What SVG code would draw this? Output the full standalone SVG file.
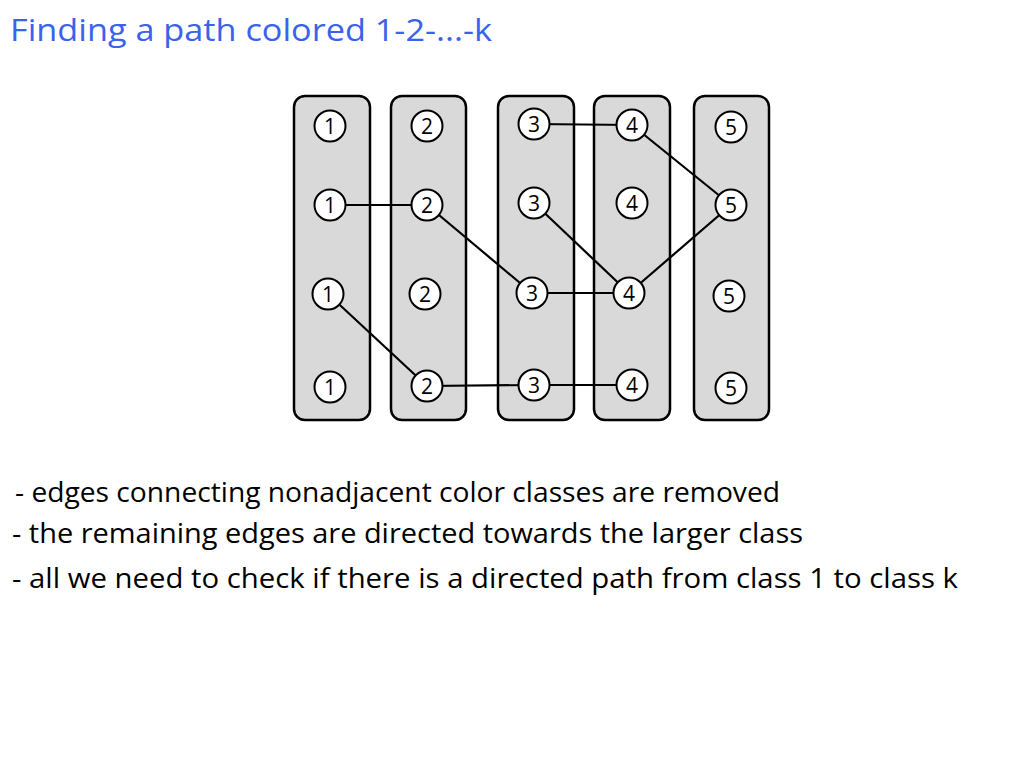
<svg xmlns="http://www.w3.org/2000/svg" width="1024" height="768" viewBox="0 0 1024 768">
<style>
.box{fill:#d9d9d9;stroke:#000;stroke-width:2.5}
.n circle{fill:#fff;stroke:#000;stroke-width:2}
.n text{font-family:"Open Sans","Noto Sans",sans-serif;font-size:21px;text-anchor:middle;dominant-baseline:central;fill:#000}
.e line{stroke:#000;stroke-width:2.2}
.title{font-family:"Open Sans","DejaVu Sans",sans-serif;font-size:31px;fill:#3a62ec}
.body{font-family:"Open Sans","DejaVu Sans",sans-serif;font-size:28px;fill:#000}
</style>
<rect width="1024" height="768" fill="#fff"/>
<text class="title" x="10" y="41" textLength="482" lengthAdjust="spacingAndGlyphs">Finding a path colored 1-2-...-k</text>
<g id="classes">
<rect id="class1" class="box" x="294" y="96" width="76" height="324" rx="11"/>
<rect id="class2" class="box" x="391" y="96" width="75" height="324" rx="11"/>
<rect id="class3" class="box" x="498" y="96" width="76" height="324" rx="11"/>
<rect id="class4" class="box" x="594" y="96" width="76" height="324" rx="11"/>
<rect id="class5" class="box" x="694" y="96" width="75" height="324" rx="11"/>
</g>
<g id="connectors" class="e">
<line x1="534" y1="124" x2="632" y2="125"/>
<line x1="632" y1="125" x2="731" y2="205"/>
<line x1="330" y1="205" x2="427" y2="205"/>
<line x1="427" y1="205" x2="532" y2="293"/>
<line x1="534" y1="203" x2="629" y2="293"/>
<line x1="532" y1="293" x2="629" y2="293"/>
<line x1="629" y1="293" x2="731" y2="205"/>
<line x1="328" y1="294" x2="427" y2="386"/>
<line x1="427" y1="386" x2="534" y2="385"/>
<line x1="534" y1="385" x2="632" y2="385"/>
</g>
<g id="n1a" class="n"><circle cx="330" cy="126" r="15.5"/><text x="330" y="126">1</text></g>
<g id="n1b" class="n"><circle cx="330" cy="205" r="15.5"/><text x="330" y="205">1</text></g>
<g id="n1c" class="n"><circle cx="328" cy="294" r="15.5"/><text x="328" y="294">1</text></g>
<g id="n1d" class="n"><circle cx="330" cy="387" r="15.5"/><text x="330" y="387">1</text></g>
<g id="n2a" class="n"><circle cx="427" cy="126" r="15.5"/><text x="427" y="126">2</text></g>
<g id="n2b" class="n"><circle cx="427" cy="205" r="15.5"/><text x="427" y="205">2</text></g>
<g id="n2c" class="n"><circle cx="425" cy="294" r="15.5"/><text x="425" y="294">2</text></g>
<g id="n2d" class="n"><circle cx="427" cy="386" r="15.5"/><text x="427" y="386">2</text></g>
<g id="n3a" class="n"><circle cx="534" cy="124" r="15.5"/><text x="534" y="124">3</text></g>
<g id="n3b" class="n"><circle cx="534" cy="203" r="15.5"/><text x="534" y="203">3</text></g>
<g id="n3c" class="n"><circle cx="532" cy="293" r="15.5"/><text x="532" y="293">3</text></g>
<g id="n3d" class="n"><circle cx="534" cy="385" r="15.5"/><text x="534" y="385">3</text></g>
<g id="n4a" class="n"><circle cx="632" cy="125" r="15.5"/><text x="632" y="125">4</text></g>
<g id="n4b" class="n"><circle cx="632" cy="203" r="15.5"/><text x="632" y="203">4</text></g>
<g id="n4c" class="n"><circle cx="629" cy="293" r="15.5"/><text x="629" y="293">4</text></g>
<g id="n4d" class="n"><circle cx="632" cy="385" r="15.5"/><text x="632" y="385">4</text></g>
<g id="n5a" class="n"><circle cx="731" cy="127" r="15.5"/><text x="731" y="127">5</text></g>
<g id="n5b" class="n"><circle cx="731" cy="205" r="15.5"/><text x="731" y="205">5</text></g>
<g id="n5c" class="n"><circle cx="729" cy="296" r="15.5"/><text x="729" y="296">5</text></g>
<g id="n5d" class="n"><circle cx="731" cy="388" r="15.5"/><text x="731" y="388">5</text></g>
<text class="body" x="15" y="502" textLength="765" lengthAdjust="spacingAndGlyphs">- edges connecting nonadjacent color classes are removed</text>
<text class="body" x="12" y="543" textLength="791" lengthAdjust="spacingAndGlyphs">- the remaining edges are directed towards the larger class</text>
<text class="body" x="12" y="588" textLength="946" lengthAdjust="spacingAndGlyphs">- all we need to check if there is a directed path from class 1 to class k</text>
</svg>
